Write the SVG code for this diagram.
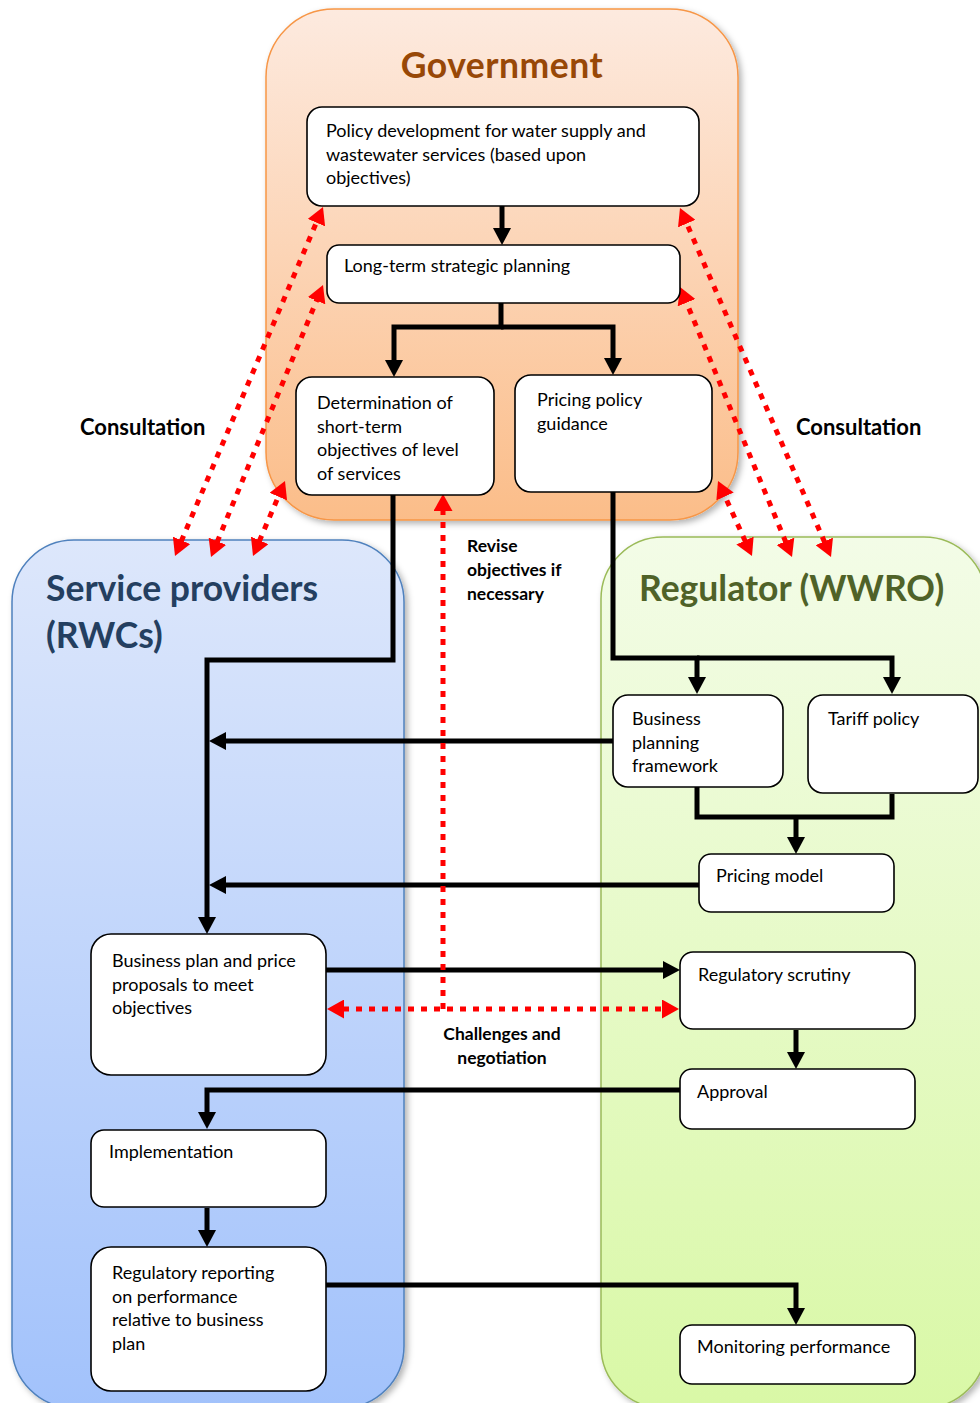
<svg xmlns="http://www.w3.org/2000/svg" width="980" height="1403" viewBox="0 0 980 1403">
<defs>
<linearGradient id="gGov" x1="0" y1="0" x2="0" y2="1"><stop offset="0" stop-color="#fdeadf"/><stop offset="1" stop-color="#fbbd89"/></linearGradient>
<linearGradient id="gSP" x1="0" y1="0" x2="0" y2="1"><stop offset="0" stop-color="#dde7fb"/><stop offset="1" stop-color="#a2c2fb"/></linearGradient>
<linearGradient id="gReg" x1="0" y1="0" x2="0" y2="1"><stop offset="0" stop-color="#f3fce7"/><stop offset="1" stop-color="#d9f8a6"/></linearGradient>
<filter id="sh" x="-10%" y="-10%" width="120%" height="120%"><feDropShadow dx="3" dy="3" stdDeviation="3" flood-color="#000" flood-opacity="0.3"/></filter>
<marker id="ab" markerUnits="userSpaceOnUse" markerWidth="18" markerHeight="18" refX="1" refY="9" orient="auto"><path d="M0,0 L17,9 L0,18 z" fill="#000"/></marker>
<marker id="ar" markerUnits="userSpaceOnUse" markerWidth="18" markerHeight="19" refX="1" refY="9.5" orient="auto-start-reverse"><path d="M0,0 L17,9.5 L0,19 z" fill="#ff0000"/></marker>
</defs>
<style>
.box{fill:#fff;stroke:#000;stroke-width:1.6}
.t{font-family:Lato,"Open Sans","Liberation Sans",sans-serif;font-size:18px;fill:#000}
.title{font-family:Lato,"Open Sans","Liberation Sans",sans-serif;font-weight:bold;font-size:35.5px}
.lab{font-family:Lato,"Open Sans","Liberation Sans",sans-serif;font-weight:bold;fill:#000}
.blk{fill:none;stroke:#000;stroke-width:5;stroke-linejoin:miter;stroke-linecap:butt;marker-end:url(#ab)}
.red{fill:none;stroke:#ff0000;stroke-width:5;stroke-dasharray:6 7;marker-end:url(#ar)}
.red2{marker-start:url(#ar)}
</style>

<g id="government">
<rect x="266" y="9" width="472" height="511" rx="68" fill="url(#gGov)" stroke="#f79646" stroke-width="1.5" filter="url(#sh)"/>
<text class="title" x="502" y="78" text-anchor="middle" fill="#984807" letter-spacing="0.5">Government</text>
</g>
<g id="service-providers">
<rect x="12" y="540" width="392" height="868" rx="62" fill="url(#gSP)" stroke="#4f81bd" stroke-width="1.5" filter="url(#sh)"/>
<text class="title" x="46" y="601" fill="#243f60">Service providers</text>
<text class="title" x="46" y="648" fill="#243f60">(RWCs)</text>
</g>
<g id="regulator">
<rect x="601" y="537" width="385" height="871" rx="62" fill="url(#gReg)" stroke="#9bbb59" stroke-width="1.5" filter="url(#sh)"/>
<text class="title" x="639" y="601" fill="#4f6228">Regulator (WWRO)</text>
</g>

<g id="labels">
<text class="lab" x="80" y="435" font-size="22">Consultation</text>
<text class="lab" x="796" y="435" font-size="22">Consultation</text>
<text class="lab" x="467" y="552" font-size="17.5">Revise</text>
<text class="lab" x="467" y="576" font-size="17.5">objectives if</text>
<text class="lab" x="467" y="600" font-size="17.5">necessary</text>
<text class="lab" x="502" y="1040" font-size="17.5" text-anchor="middle">Challenges and</text>
<text class="lab" x="502" y="1064" font-size="17.5" text-anchor="middle">negotiation</text>
</g>

<g id="connectors">
<path class="blk" d="M502,206 V229"/>
<path class="blk" d="M501,303 V327 H394 V361"/>
<path class="blk" d="M501,327 H613 V359"/>
<path class="blk" d="M393,495 V660 H207 V918"/>
<path class="blk" d="M613,492 V658 H697 V678"/>
<path class="blk" d="M697,658 H892 V678"/>
<path class="blk" d="M613,741 H225"/>
<path class="blk" d="M697,787 V817 H892 V794" style="marker-end:none"/>
<path class="blk" d="M796,817 V838"/>
<path class="blk" d="M699,885 H225"/>
<path class="blk" d="M326,970 H664"/>
<path class="blk" d="M796,1030 V1053"/>
<path class="blk" d="M680,1090 H207 V1113"/>
<path class="blk" d="M207,1208 V1231"/>
<path class="blk" d="M326,1285 H796 V1309"/>

<path class="red" d="M443,1009 V510"/>
<path class="red red2" d="M343,1009 H663"/>
<path class="red red2" d="M181.25,541.27 L316.75,221.73"/>
<path class="red red2" d="M217.09,542.21 L316.91,299.79"/>
<path class="red red2" d="M259.28,541.28 L278.72,495.72"/>
<path class="red red2" d="M824.65,542.32 L686.35,222.68"/>
<path class="red red2" d="M785.87,542.22 L686.13,301.78"/>
<path class="red red2" d="M745.39,541.43 L724.61,495.57"/>
</g>

<g id="policy-development">
<rect class="box" x="307" y="107" width="392" height="99" rx="15"/>
<text class="t" x="326" y="137">Policy development  for water supply  and</text>
<text class="t" x="326" y="161">wastewater services (based upon</text>
<text class="t" x="326" y="184">objectives)</text>
</g>
<g id="long-term-planning">
<rect class="box" x="327" y="245" width="353" height="58" rx="12"/>
<text class="t" x="344" y="272">Long-term strategic planning</text>
</g>
<g id="short-term-objectives">
<rect class="box" x="296" y="377" width="198" height="118" rx="16"/>
<text class="t" x="317" y="409">Determination of</text>
<text class="t" x="317" y="433">short-term</text>
<text class="t" x="317" y="456">objectives of  level</text>
<text class="t" x="317" y="480">of services</text>
</g>
<g id="pricing-policy-guidance">
<rect class="box" x="515" y="375" width="197" height="117" rx="16"/>
<text class="t" x="537" y="406">Pricing policy</text>
<text class="t" x="537" y="430">guidance</text>
</g>
<g id="business-planning-framework">
<rect class="box" x="613" y="695" width="170" height="92" rx="15"/>
<text class="t" x="632" y="725">Business</text>
<text class="t" x="632" y="749">planning</text>
<text class="t" x="632" y="772">framework</text>
</g>
<g id="tariff-policy">
<rect class="box" x="808" y="695" width="170" height="98" rx="15"/>
<text class="t" x="828" y="725">Tariff policy</text>
</g>
<g id="pricing-model">
<rect class="box" x="699" y="854" width="195" height="58" rx="12"/>
<text class="t" x="716" y="882">Pricing model</text>
</g>
<g id="regulatory-scrutiny">
<rect class="box" x="680" y="952" width="235" height="77" rx="13"/>
<text class="t" x="698" y="981">Regulatory scrutiny</text>
</g>
<g id="approval">
<rect class="box" x="680" y="1069" width="235" height="60" rx="12"/>
<text class="t" x="697" y="1098">Approval</text>
</g>
<g id="monitoring-performance">
<rect class="box" x="680" y="1325" width="235" height="59" rx="12"/>
<text class="t" x="697" y="1353">Monitoring performance</text>
</g>
<g id="business-plan">
<rect class="box" x="91" y="934" width="235" height="141" rx="20"/>
<text class="t" x="112" y="967">Business plan and price</text>
<text class="t" x="112" y="991">proposals to meet</text>
<text class="t" x="112" y="1014">objectives</text>
</g>
<g id="implementation">
<rect class="box" x="91" y="1130" width="235" height="77" rx="13"/>
<text class="t" x="109" y="1158">Implementation</text>
</g>
<g id="regulatory-reporting">
<rect class="box" x="91" y="1247" width="235" height="144" rx="20"/>
<text class="t" x="112" y="1279">Regulatory reporting</text>
<text class="t" x="112" y="1303">on performance</text>
<text class="t" x="112" y="1326">relative to business</text>
<text class="t" x="112" y="1350">plan</text>
</g>
</svg>
